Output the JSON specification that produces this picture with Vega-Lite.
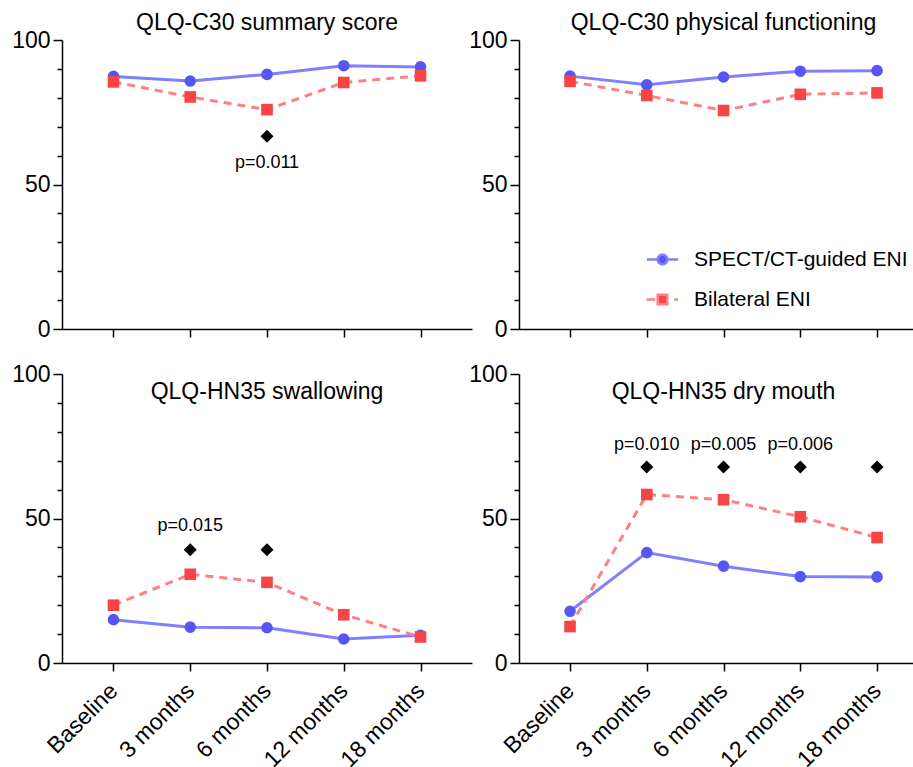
{
  "$schema": "https://vega.github.io/schema/vega-lite/v6.json",
  "background": "white",
  "padding": {"left": 11, "top": 12, "right": 0, "bottom": 0},
  "datasets": {
    "scores": [
      {"panel": "A", "group": "SPECT/CT-guided ENI", "time": "Baseline", "value": 87.4},
      {"panel": "A", "group": "SPECT/CT-guided ENI", "time": "3 months", "value": 85.8},
      {"panel": "A", "group": "SPECT/CT-guided ENI", "time": "6 months", "value": 88.1},
      {"panel": "A", "group": "SPECT/CT-guided ENI", "time": "12 months", "value": 91.1},
      {"panel": "A", "group": "SPECT/CT-guided ENI", "time": "18 months", "value": 90.7},
      {"panel": "A", "group": "Bilateral ENI", "time": "Baseline", "value": 85.5},
      {"panel": "A", "group": "Bilateral ENI", "time": "3 months", "value": 80.3},
      {"panel": "A", "group": "Bilateral ENI", "time": "6 months", "value": 75.9},
      {"panel": "A", "group": "Bilateral ENI", "time": "12 months", "value": 85.3},
      {"panel": "A", "group": "Bilateral ENI", "time": "18 months", "value": 87.6},
      {"panel": "B", "group": "SPECT/CT-guided ENI", "time": "Baseline", "value": 87.5},
      {"panel": "B", "group": "SPECT/CT-guided ENI", "time": "3 months", "value": 84.5},
      {"panel": "B", "group": "SPECT/CT-guided ENI", "time": "6 months", "value": 87.2},
      {"panel": "B", "group": "SPECT/CT-guided ENI", "time": "12 months", "value": 89.2},
      {"panel": "B", "group": "SPECT/CT-guided ENI", "time": "18 months", "value": 89.4},
      {"panel": "B", "group": "Bilateral ENI", "time": "Baseline", "value": 85.7},
      {"panel": "B", "group": "Bilateral ENI", "time": "3 months", "value": 80.8},
      {"panel": "B", "group": "Bilateral ENI", "time": "6 months", "value": 75.6},
      {"panel": "B", "group": "Bilateral ENI", "time": "12 months", "value": 81.2},
      {"panel": "B", "group": "Bilateral ENI", "time": "18 months", "value": 81.7},
      {"panel": "C", "group": "SPECT/CT-guided ENI", "time": "Baseline", "value": 15.0},
      {"panel": "C", "group": "SPECT/CT-guided ENI", "time": "3 months", "value": 12.4},
      {"panel": "C", "group": "SPECT/CT-guided ENI", "time": "6 months", "value": 12.2},
      {"panel": "C", "group": "SPECT/CT-guided ENI", "time": "12 months", "value": 8.3},
      {"panel": "C", "group": "SPECT/CT-guided ENI", "time": "18 months", "value": 9.6},
      {"panel": "C", "group": "Bilateral ENI", "time": "Baseline", "value": 20.0},
      {"panel": "C", "group": "Bilateral ENI", "time": "3 months", "value": 30.7},
      {"panel": "C", "group": "Bilateral ENI", "time": "6 months", "value": 27.9},
      {"panel": "C", "group": "Bilateral ENI", "time": "12 months", "value": 16.7},
      {"panel": "C", "group": "Bilateral ENI", "time": "18 months", "value": 9.0},
      {"panel": "D", "group": "SPECT/CT-guided ENI", "time": "Baseline", "value": 17.9},
      {"panel": "D", "group": "SPECT/CT-guided ENI", "time": "3 months", "value": 38.2},
      {"panel": "D", "group": "SPECT/CT-guided ENI", "time": "6 months", "value": 33.5},
      {"panel": "D", "group": "SPECT/CT-guided ENI", "time": "12 months", "value": 29.9},
      {"panel": "D", "group": "SPECT/CT-guided ENI", "time": "18 months", "value": 29.8},
      {"panel": "D", "group": "Bilateral ENI", "time": "Baseline", "value": 12.6},
      {"panel": "D", "group": "Bilateral ENI", "time": "3 months", "value": 58.3},
      {"panel": "D", "group": "Bilateral ENI", "time": "6 months", "value": 56.5},
      {"panel": "D", "group": "Bilateral ENI", "time": "12 months", "value": 50.6},
      {"panel": "D", "group": "Bilateral ENI", "time": "18 months", "value": 43.4}
    ],
    "marks": [
      {"panel": "A", "kind": "diamond", "time": "6 months", "value": 66.7},
      {"panel": "A", "kind": "p", "time": "6 months", "value": 57.5, "label": "p=0.011"},
      {"panel": "C", "kind": "diamond", "time": "3 months", "value": 39.2},
      {"panel": "C", "kind": "diamond", "time": "6 months", "value": 39.2},
      {"panel": "C", "kind": "p", "time": "3 months", "value": 47.5, "label": "p=0.015"},
      {"panel": "D", "kind": "diamond", "time": "3 months", "value": 67.8},
      {"panel": "D", "kind": "diamond", "time": "6 months", "value": 67.8},
      {"panel": "D", "kind": "diamond", "time": "12 months", "value": 67.8},
      {"panel": "D", "kind": "diamond", "time": "18 months", "value": 67.8},
      {"panel": "D", "kind": "p", "time": "3 months", "value": 75.5, "label": "p=0.010"},
      {"panel": "D", "kind": "p", "time": "6 months", "value": 75.5, "label": "p=0.005"},
      {"panel": "D", "kind": "p", "time": "12 months", "value": 75.5, "label": "p=0.006"}
    ]
  },
  "columns": 2,
  "spacing": {"row": 45, "column": 47},
  "bounds": "flush",
  "resolve": {"legend": {"stroke": "independent"}},
  "concat": [
    {
      "width": 410, "height": 289,
      "title": {"text": "QLQ-C30 summary score", "anchor": "middle", "frame": "group", "baseline": "alphabetic", "offset": -24, "fontSize": 23, "fontWeight": "normal", "font": "Liberation Sans", "color": "black"},
      "encoding": {
        "x": {"field": "time", "type": "ordinal", "scale": {"type": "point", "domain": ["Baseline", "3 months", "6 months", "12 months", "18 months"], "padding": 0.671},
              "axis": {"title": null, "labels": false, "tickSize": 8, "tickWidth": 1.5, "domainWidth": 1.5, "domainColor": "black", "tickColor": "black"}},
        "y": {"field": "value", "type": "quantitative", "scale": {"domain": [0, 100], "nice": false},
              "axis": {"title": null, "values": [0, 10, 20, 30, 40, 50, 60, 70, 80, 90, 100], "labelExpr": "datum.value % 50 === 0 ? datum.label : ''", "tickSize": {"condition": {"test": "datum.value % 50 === 0", "value": 9}, "value": 5}, "labelPadding": 3, "labelFontSize": 23, "labelColor": "black", "tickWidth": 1.5, "domainWidth": 1.5, "domainColor": "black", "tickColor": "black", "grid": false}}
      },
      "layer": [
        {"data": {"name": "scores"}, "transform": [{"filter": "datum.panel === 'A' && datum.group === 'SPECT/CT-guided ENI'"}],
         "mark": {"type": "line", "strokeWidth": 3},
         "encoding": {"stroke": {"field": "group", "type": "nominal", "scale": {"domain": ["SPECT/CT-guided ENI", "Bilateral ENI"], "range": ["#8080FF", "#FF8080"]}, "legend": null}}},
        {"data": {"name": "scores"}, "transform": [{"filter": "datum.panel === 'A' && datum.group === 'SPECT/CT-guided ENI'"}],
         "mark": {"type": "point", "filled": true, "size": 135, "opacity": 1, "strokeWidth": 0},
         "encoding": {"fill": {"field": "group", "type": "nominal", "scale": {"domain": ["SPECT/CT-guided ENI", "Bilateral ENI"], "range": ["#5656F5", "#F84444"]}, "legend": null},
                      "shape": {"field": "group", "type": "nominal", "scale": {"domain": ["SPECT/CT-guided ENI", "Bilateral ENI"], "range": ["circle", "square"]}, "legend": null}}},
        {"data": {"name": "scores"}, "transform": [{"filter": "datum.panel === 'A' && datum.group === 'Bilateral ENI'"}],
         "mark": {"type": "line", "strokeWidth": 3, "strokeDash": [8, 6]},
         "encoding": {"stroke": {"field": "group", "type": "nominal", "scale": {"domain": ["SPECT/CT-guided ENI", "Bilateral ENI"], "range": ["#8080FF", "#FF8080"]}, "legend": null}}},
        {"data": {"name": "scores"}, "transform": [{"filter": "datum.panel === 'A' && datum.group === 'Bilateral ENI'"}],
         "mark": {"type": "point", "filled": true, "size": 135, "opacity": 1, "strokeWidth": 0},
         "encoding": {"fill": {"field": "group", "type": "nominal", "scale": {"domain": ["SPECT/CT-guided ENI", "Bilateral ENI"], "range": ["#5656F5", "#F84444"]}, "legend": null},
                      "shape": {"field": "group", "type": "nominal", "scale": {"domain": ["SPECT/CT-guided ENI", "Bilateral ENI"], "range": ["circle", "square"]}, "legend": null}}},
        {"data": {"name": "marks"}, "transform": [{"filter": "datum.panel === 'A' && datum.kind === 'diamond'"}],
         "mark": {"type": "point", "shape": "diamond", "filled": true, "color": "black", "size": 170, "opacity": 1, "strokeWidth": 0}},
        {"data": {"name": "marks"}, "transform": [{"filter": "datum.panel === 'A' && datum.kind === 'p'"}],
         "mark": {"type": "text", "fontSize": 18, "baseline": "middle", "align": "center", "color": "black"},
         "encoding": {"text": {"field": "label"}}}
      ]
    },
    {
      "width": 395, "height": 289,
      "title": {"text": "QLQ-C30 physical functioning", "anchor": "middle", "frame": "group", "baseline": "alphabetic", "offset": -24, "dx": 7, "fontSize": 23, "fontWeight": "normal", "font": "Liberation Sans", "color": "black"},
      "encoding": {
        "x": {"field": "time", "type": "ordinal", "scale": {"type": "point", "domain": ["Baseline", "3 months", "6 months", "12 months", "18 months"], "padding": 0.573, "align": 0.58},
              "axis": {"title": null, "labels": false, "tickSize": 8, "tickWidth": 1.5, "domainWidth": 1.5, "domainColor": "black", "tickColor": "black"}},
        "y": {"field": "value", "type": "quantitative", "scale": {"domain": [0, 100], "nice": false},
              "axis": {"title": null, "values": [0, 10, 20, 30, 40, 50, 60, 70, 80, 90, 100], "labelExpr": "datum.value % 50 === 0 ? datum.label : ''", "tickSize": {"condition": {"test": "datum.value % 50 === 0", "value": 9}, "value": 5}, "labelPadding": 3, "labelFontSize": 23, "labelColor": "black", "tickWidth": 1.5, "domainWidth": 1.5, "domainColor": "black", "tickColor": "black", "grid": false}}
      },
      "layer": [
        {"data": {"name": "scores"}, "transform": [{"filter": "datum.panel === 'B' && datum.group === 'SPECT/CT-guided ENI'"}],
         "mark": {"type": "line", "strokeWidth": 3},
         "encoding": {"stroke": {"field": "group", "type": "nominal", "scale": {"domain": ["SPECT/CT-guided ENI", "Bilateral ENI"], "range": ["#8080FF", "#FF8080"]},
           "legend": {"orient": "none", "legendX": 133, "legendY": 209, "title": null, "padding": 0, "rowPadding": 18, "labelFontSize": 21, "labelFont": "Liberation Sans", "labelColor": "black", "labelLimit": 400, "labelOffset": 21, "symbolSize": 144, "symbolStrokeWidth": 2.5,
             "encoding": {"symbols": {
               "shape": {"condition": {"test": "datum.value === 'Bilateral ENI'", "value": "M-2.67,0H-1.2M1.95,0H2.6M-0.8,-0.8H0.8V0.8H-0.8Z"}, "value": "M-2.6,0H-0.8M0.8,0H2.6M-0.8,0A0.8,0.8,0,1,0,0.8,0A0.8,0.8,0,1,0,-0.8,0Z"},
               "fill": {"condition": {"test": "datum.value === 'Bilateral ENI'", "value": "#F84444"}, "value": "#5656F5"},
               "stroke": {"condition": {"test": "datum.value === 'Bilateral ENI'", "value": "#FF8080"}, "value": "#8080FF"},
               "strokeDash": {"value": [1, 0]},
               "opacity": {"value": 1}
             }}}}}},
        {"data": {"name": "scores"}, "transform": [{"filter": "datum.panel === 'B' && datum.group === 'SPECT/CT-guided ENI'"}],
         "mark": {"type": "point", "filled": true, "size": 135, "opacity": 1, "strokeWidth": 0},
         "encoding": {"fill": {"field": "group", "type": "nominal", "scale": {"domain": ["SPECT/CT-guided ENI", "Bilateral ENI"], "range": ["#5656F5", "#F84444"]}, "legend": null},
                      "shape": {"field": "group", "type": "nominal", "scale": {"domain": ["SPECT/CT-guided ENI", "Bilateral ENI"], "range": ["circle", "square"]}, "legend": null}}},
        {"data": {"name": "scores"}, "transform": [{"filter": "datum.panel === 'B' && datum.group === 'Bilateral ENI'"}],
         "mark": {"type": "line", "strokeWidth": 3, "strokeDash": [8, 6]},
         "encoding": {"stroke": {"field": "group", "type": "nominal", "scale": {"domain": ["SPECT/CT-guided ENI", "Bilateral ENI"], "range": ["#8080FF", "#FF8080"]},
           "legend": {"orient": "none", "legendX": 133, "legendY": 209, "title": null, "padding": 0, "rowPadding": 18, "labelFontSize": 21, "labelFont": "Liberation Sans", "labelColor": "black", "labelLimit": 400, "labelOffset": 21, "symbolSize": 144, "symbolStrokeWidth": 2.5,
             "encoding": {"symbols": {
               "shape": {"condition": {"test": "datum.value === 'Bilateral ENI'", "value": "M-2.67,0H-1.2M1.95,0H2.6M-0.8,-0.8H0.8V0.8H-0.8Z"}, "value": "M-2.6,0H-0.8M0.8,0H2.6M-0.8,0A0.8,0.8,0,1,0,0.8,0A0.8,0.8,0,1,0,-0.8,0Z"},
               "fill": {"condition": {"test": "datum.value === 'Bilateral ENI'", "value": "#F84444"}, "value": "#5656F5"},
               "stroke": {"condition": {"test": "datum.value === 'Bilateral ENI'", "value": "#FF8080"}, "value": "#8080FF"},
               "strokeDash": {"value": [1, 0]},
               "opacity": {"value": 1}
             }}}}}},
        {"data": {"name": "scores"}, "transform": [{"filter": "datum.panel === 'B' && datum.group === 'Bilateral ENI'"}],
         "mark": {"type": "point", "filled": true, "size": 135, "opacity": 1, "strokeWidth": 0},
         "encoding": {"fill": {"field": "group", "type": "nominal", "scale": {"domain": ["SPECT/CT-guided ENI", "Bilateral ENI"], "range": ["#5656F5", "#F84444"]}, "legend": null},
                      "shape": {"field": "group", "type": "nominal", "scale": {"domain": ["SPECT/CT-guided ENI", "Bilateral ENI"], "range": ["circle", "square"]}, "legend": null}}}
      ]
    },
    {
      "width": 410, "height": 289,
      "title": {"text": "QLQ-HN35 swallowing", "anchor": "middle", "frame": "group", "baseline": "alphabetic", "offset": -59, "fontSize": 23, "fontWeight": "normal", "font": "Liberation Sans", "color": "black"},
      "encoding": {
        "x": {"field": "time", "type": "ordinal", "scale": {"type": "point", "domain": ["Baseline", "3 months", "6 months", "12 months", "18 months"], "padding": 0.671},
              "axis": {"title": null, "labelAngle": -45, "labelAlign": "right", "labelBaseline": "middle", "labelPadding": 16, "labelFontSize": 23, "labelColor": "black", "tickSize": 8, "tickWidth": 1.5, "domainWidth": 1.5, "domainColor": "black", "tickColor": "black"}},
        "y": {"field": "value", "type": "quantitative", "scale": {"domain": [0, 100], "nice": false},
              "axis": {"title": null, "values": [0, 10, 20, 30, 40, 50, 60, 70, 80, 90, 100], "labelExpr": "datum.value % 50 === 0 ? datum.label : ''", "tickSize": {"condition": {"test": "datum.value % 50 === 0", "value": 9}, "value": 5}, "labelPadding": 3, "labelFontSize": 23, "labelColor": "black", "tickWidth": 1.5, "domainWidth": 1.5, "domainColor": "black", "tickColor": "black", "grid": false}}
      },
      "layer": [
        {"data": {"name": "scores"}, "transform": [{"filter": "datum.panel === 'C' && datum.group === 'SPECT/CT-guided ENI'"}],
         "mark": {"type": "line", "strokeWidth": 3},
         "encoding": {"stroke": {"field": "group", "type": "nominal", "scale": {"domain": ["SPECT/CT-guided ENI", "Bilateral ENI"], "range": ["#8080FF", "#FF8080"]}, "legend": null}}},
        {"data": {"name": "scores"}, "transform": [{"filter": "datum.panel === 'C' && datum.group === 'SPECT/CT-guided ENI'"}],
         "mark": {"type": "point", "filled": true, "size": 135, "opacity": 1, "strokeWidth": 0},
         "encoding": {"fill": {"field": "group", "type": "nominal", "scale": {"domain": ["SPECT/CT-guided ENI", "Bilateral ENI"], "range": ["#5656F5", "#F84444"]}, "legend": null},
                      "shape": {"field": "group", "type": "nominal", "scale": {"domain": ["SPECT/CT-guided ENI", "Bilateral ENI"], "range": ["circle", "square"]}, "legend": null}}},
        {"data": {"name": "scores"}, "transform": [{"filter": "datum.panel === 'C' && datum.group === 'Bilateral ENI'"}],
         "mark": {"type": "line", "strokeWidth": 3, "strokeDash": [8, 6]},
         "encoding": {"stroke": {"field": "group", "type": "nominal", "scale": {"domain": ["SPECT/CT-guided ENI", "Bilateral ENI"], "range": ["#8080FF", "#FF8080"]}, "legend": null}}},
        {"data": {"name": "scores"}, "transform": [{"filter": "datum.panel === 'C' && datum.group === 'Bilateral ENI'"}],
         "mark": {"type": "point", "filled": true, "size": 135, "opacity": 1, "strokeWidth": 0},
         "encoding": {"fill": {"field": "group", "type": "nominal", "scale": {"domain": ["SPECT/CT-guided ENI", "Bilateral ENI"], "range": ["#5656F5", "#F84444"]}, "legend": null},
                      "shape": {"field": "group", "type": "nominal", "scale": {"domain": ["SPECT/CT-guided ENI", "Bilateral ENI"], "range": ["circle", "square"]}, "legend": null}}},
        {"data": {"name": "marks"}, "transform": [{"filter": "datum.panel === 'C' && datum.kind === 'diamond'"}],
         "mark": {"type": "point", "shape": "diamond", "filled": true, "color": "black", "size": 170, "opacity": 1, "strokeWidth": 0}},
        {"data": {"name": "marks"}, "transform": [{"filter": "datum.panel === 'C' && datum.kind === 'p'"}],
         "mark": {"type": "text", "fontSize": 18, "baseline": "middle", "align": "center", "color": "black"},
         "encoding": {"text": {"field": "label"}}}
      ]
    },
    {
      "width": 395, "height": 289,
      "title": {"text": "QLQ-HN35 dry mouth", "anchor": "middle", "frame": "group", "baseline": "alphabetic", "offset": -59, "dx": 7, "fontSize": 23, "fontWeight": "normal", "font": "Liberation Sans", "color": "black"},
      "encoding": {
        "x": {"field": "time", "type": "ordinal", "scale": {"type": "point", "domain": ["Baseline", "3 months", "6 months", "12 months", "18 months"], "padding": 0.573, "align": 0.58},
              "axis": {"title": null, "labelAngle": -45, "labelAlign": "right", "labelBaseline": "middle", "labelPadding": 16, "labelFontSize": 23, "labelColor": "black", "tickSize": 8, "tickWidth": 1.5, "domainWidth": 1.5, "domainColor": "black", "tickColor": "black"}},
        "y": {"field": "value", "type": "quantitative", "scale": {"domain": [0, 100], "nice": false},
              "axis": {"title": null, "values": [0, 10, 20, 30, 40, 50, 60, 70, 80, 90, 100], "labelExpr": "datum.value % 50 === 0 ? datum.label : ''", "tickSize": {"condition": {"test": "datum.value % 50 === 0", "value": 9}, "value": 5}, "labelPadding": 3, "labelFontSize": 23, "labelColor": "black", "tickWidth": 1.5, "domainWidth": 1.5, "domainColor": "black", "tickColor": "black", "grid": false}}
      },
      "layer": [
        {"data": {"name": "scores"}, "transform": [{"filter": "datum.panel === 'D' && datum.group === 'SPECT/CT-guided ENI'"}],
         "mark": {"type": "line", "strokeWidth": 3},
         "encoding": {"stroke": {"field": "group", "type": "nominal", "scale": {"domain": ["SPECT/CT-guided ENI", "Bilateral ENI"], "range": ["#8080FF", "#FF8080"]}, "legend": null}}},
        {"data": {"name": "scores"}, "transform": [{"filter": "datum.panel === 'D' && datum.group === 'SPECT/CT-guided ENI'"}],
         "mark": {"type": "point", "filled": true, "size": 135, "opacity": 1, "strokeWidth": 0},
         "encoding": {"fill": {"field": "group", "type": "nominal", "scale": {"domain": ["SPECT/CT-guided ENI", "Bilateral ENI"], "range": ["#5656F5", "#F84444"]}, "legend": null},
                      "shape": {"field": "group", "type": "nominal", "scale": {"domain": ["SPECT/CT-guided ENI", "Bilateral ENI"], "range": ["circle", "square"]}, "legend": null}}},
        {"data": {"name": "scores"}, "transform": [{"filter": "datum.panel === 'D' && datum.group === 'Bilateral ENI'"}],
         "mark": {"type": "line", "strokeWidth": 3, "strokeDash": [8, 6]},
         "encoding": {"stroke": {"field": "group", "type": "nominal", "scale": {"domain": ["SPECT/CT-guided ENI", "Bilateral ENI"], "range": ["#8080FF", "#FF8080"]}, "legend": null}}},
        {"data": {"name": "scores"}, "transform": [{"filter": "datum.panel === 'D' && datum.group === 'Bilateral ENI'"}],
         "mark": {"type": "point", "filled": true, "size": 135, "opacity": 1, "strokeWidth": 0},
         "encoding": {"fill": {"field": "group", "type": "nominal", "scale": {"domain": ["SPECT/CT-guided ENI", "Bilateral ENI"], "range": ["#5656F5", "#F84444"]}, "legend": null},
                      "shape": {"field": "group", "type": "nominal", "scale": {"domain": ["SPECT/CT-guided ENI", "Bilateral ENI"], "range": ["circle", "square"]}, "legend": null}}},
        {"data": {"name": "marks"}, "transform": [{"filter": "datum.panel === 'D' && datum.kind === 'diamond'"}],
         "mark": {"type": "point", "shape": "diamond", "filled": true, "color": "black", "size": 170, "opacity": 1, "strokeWidth": 0}},
        {"data": {"name": "marks"}, "transform": [{"filter": "datum.panel === 'D' && datum.kind === 'p'"}],
         "mark": {"type": "text", "fontSize": 18, "baseline": "middle", "align": "center", "color": "black"},
         "encoding": {"text": {"field": "label"}}}
      ]
    }
  ],
  "config": {
    "font": "Liberation Sans",
    "view": {"stroke": null},
    "axis": {"labelFont": "Liberation Sans"},
    "text": {"font": "Liberation Sans"}
  }
}
